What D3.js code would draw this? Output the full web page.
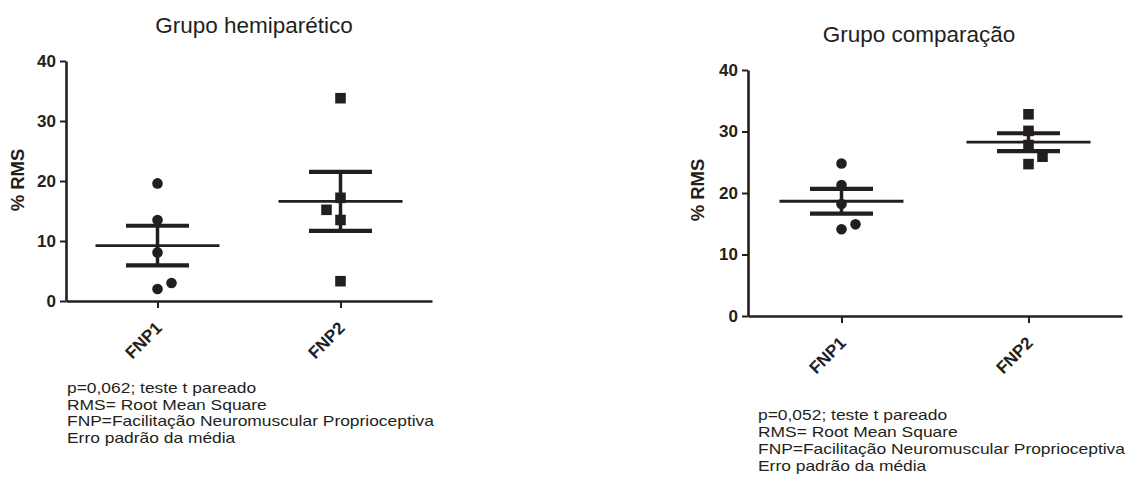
<!DOCTYPE html>
<html>
<head>
<meta charset="utf-8">
<script src="https://cdn.jsdelivr.net/npm/d3@7"></script>
<style>
  body { margin: 0; background: #fff; }
  svg { display: block; }
  text { font-family: "Liberation Sans", Arial, sans-serif; fill: #231f20; }
</style>
</head>
<body>
<div id="canvas"></div>
<script>
// categories and tick labels
var categories = ["FNP1", "FNP2"];
var yTicks = [0, 10, 20, 30, 40];

// % RMS per subject
var hemiFNP1 = [19.6, 13.5, 8.1, 2.0, 3.0];
var hemiFNP2 = [33.8, 17.2, 13.5, 3.3, 15.2];
var compFNP1 = [24.8, 21.3, 18.2, 14.1, 14.9];
var compFNP2 = [32.8, 30.1, 27.8, 24.7, 25.9];

var hemiNotes = ["p=0,062; teste t pareado", "RMS= Root Mean Square",
                 "FNP=Facilitação Neuromuscular Proprioceptiva", "Erro padrão da média"];
var compNotes = ["p=0,052; teste t pareado", "RMS= Root Mean Square",
                 "FNP=Facilitação Neuromuscular Proprioceptiva", "Erro padrão da média"];

(function(){

    var ink = "#231f20";
    var svg = d3.select("#canvas").append("svg").attr("width", 1141).attr("height", 482);

    function meanSem(v){
        var m = d3.mean(v);
        var sem = d3.deviation(v) / Math.sqrt(v.length);
        return {mean: m, lo: m - sem, hi: m + sem};
    }

    // simple swarm: push a point sideways when it overlaps one already placed
    function swarm(values, y, size, side){
        var placed = [];
        return values.map(function(v){
            var py = y(v), dx = 0;
            var hit = function(d){ return placed.some(function(p){
                return Math.hypot(p.dx - d, p.py - py) < size; }); };
            var k = 1;
            while (hit(dx)) { dx = side * 14 * k; k++; }
            placed.push({dx: dx, py: py});
            return {v: v, dx: dx};
        });
    }

    function drawChart(cfg){
        var g = svg.append("g");

        var x = d3.scalePoint().domain(categories).range([cfg.x0, cfg.x1]).padding(0.5);
        var y = d3.scaleLinear().domain([0, 40]).range([cfg.yBot, cfg.yTop]);

        // title
        g.append("text")
            .attr("x", cfg.titleX).attr("y", cfg.titleY)
            .attr("text-anchor", "middle")
            .style("font-size", "22.5px")
            .text(cfg.title);

        // y axis
        var ya = g.append("g")
            .attr("transform", "translate(" + cfg.x0 + ",0)")
            .call(d3.axisLeft(y).tickValues(yTicks).tickSize(6).tickSizeOuter(0).tickPadding(4));
        ya.select(".domain").attr("stroke", ink).attr("stroke-width", 2.6);
        ya.selectAll(".tick line").attr("stroke", ink).attr("stroke-width", 2);
        ya.selectAll(".tick text")
            .style("font-size", "17px").style("font-weight", "bold")
            .attr("fill", ink);

        // x axis
        var xa = g.append("g")
            .attr("transform", "translate(0," + cfg.yBot + ")")
            .call(d3.axisBottom(x).tickSize(7).tickSizeOuter(0));
        xa.select(".domain").attr("stroke", ink).attr("stroke-width", 2.6);
        xa.selectAll(".tick line").attr("stroke", ink).attr("stroke-width", 2);
        xa.selectAll(".tick text")
            .attr("y", 0).attr("dy", 0)
            .attr("text-anchor", "end")
            .attr("transform", "translate(5,28) rotate(-45)")
            .style("font-size", "17px").style("font-weight", "bold")
            .attr("fill", ink);

        // y label
        g.append("text")
            .attr("transform", "translate(" + cfg.labelX + "," + cfg.labelY + ") rotate(-90)")
            .attr("text-anchor", "middle")
            .attr("dy", "0.35em")
            .style("font-size", "18.5px").style("font-weight", "bold")
            .text("% RMS");

        // points, mean and SEM per group
        cfg.series.forEach(function(vals, i){
            var cx = x(categories[i]);
            var pts = swarm(vals, y, 11, cfg.side[i]);
            var s = meanSem(vals);

            if (i === 0) {
                g.selectAll(null).data(pts).enter().append("circle")
                    .attr("cx", function(d){ return cx + d.dx; })
                    .attr("cy", function(d){ return y(d.v); })
                    .attr("r", 5.3)
                    .attr("fill", ink);
            } else {
                g.selectAll(null).data(pts).enter().append("path")
                    .attr("d", d3.symbol().type(d3.symbolSquare).size(112))
                    .attr("transform", function(d){ return "translate(" + (cx + d.dx) + "," + y(d.v) + ")"; })
                    .attr("fill", ink);
            }

            g.append("line")
                .attr("x1", cx - 62).attr("x2", cx + 62)
                .attr("y1", y(s.mean)).attr("y2", y(s.mean))
                .attr("stroke", ink).attr("stroke-width", 2.8);
            g.append("line")
                .attr("x1", cx).attr("x2", cx)
                .attr("y1", y(s.lo)).attr("y2", y(s.hi))
                .attr("stroke", ink).attr("stroke-width", 3.5);
            [s.lo, s.hi].forEach(function(b){
                g.append("line")
                    .attr("x1", cx - 31.5).attr("x2", cx + 31.5)
                    .attr("y1", y(b)).attr("y2", y(b))
                    .attr("stroke", ink).attr("stroke-width", 4.2);
            });
        });

        // notes: the reference face is wider than Arial, so stretch each line a bit
        g.selectAll(null).data(cfg.notes).enter().append("text")
            .attr("x", cfg.noteX)
            .attr("y", function(d, i){ return cfg.noteY + i * cfg.noteGap; })
            .style("font-size", "14.5px")
            .text(function(d){ return d; })
            .each(function(){
                var len = this.getComputedTextLength();
                d3.select(this).attr("textLength", len * 1.2).attr("lengthAdjust", "spacingAndGlyphs");
            });
    }

    drawChart({
        title: "Grupo hemiparético", titleX: 254, titleY: 33,
        x0: 66, x1: 432, yTop: 61, yBot: 301,
        labelX: 17.5, labelY: 180,
        series: [hemiFNP1, hemiFNP2], side: [1, -1],
        notes: hemiNotes, noteX: 67, noteY: 393, noteGap: 16.7
    });

    drawChart({
        title: "Grupo comparação", titleX: 919, titleY: 42,
        x0: 748, x1: 1122, yTop: 70, yBot: 316,
        labelX: 697.5, labelY: 190,
        series: [compFNP1, compFNP2], side: [1, 1],
        notes: compNotes, noteX: 758, noteY: 420, noteGap: 17
    });

})();
</script>
</body>
</html>
